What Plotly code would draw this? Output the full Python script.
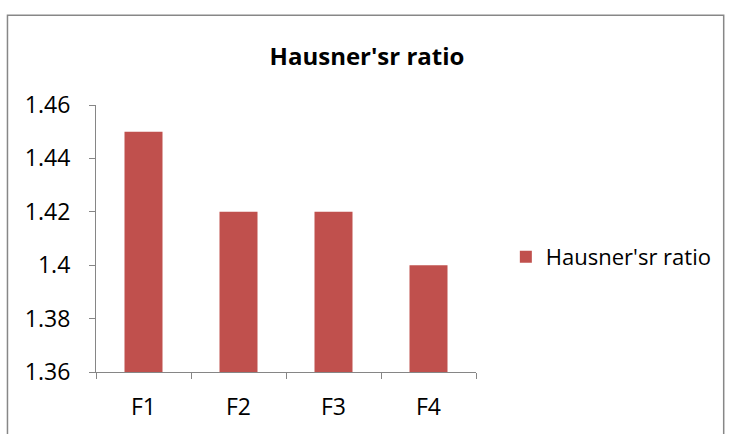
import plotly.graph_objects as go

categories = ["F1", "F2", "F3", "F4"]
values = [1.45, 1.42, 1.42, 1.40]
series_name = "Hausner'sr ratio"
title_text = "Hausner'sr ratio"
y_ticks = [1.36, 1.38, 1.40, 1.42, 1.44, 1.46]
y_tick_labels = ["1.36", "1.38", "1.4", "1.42", "1.44", "1.46"]

FONT = "Open Sans"
AXIS = "#868686"

fig = go.Figure()
fig.add_trace(go.Bar(
    x=categories, y=values, name=series_name,
    marker=dict(color="#C0504D", line=dict(width=0)),
    showlegend=True,
))

fig.update_layout(
    width=729, height=434,
    margin=dict(l=96, r=251, t=105, b=55),
    paper_bgcolor="white", plot_bgcolor="white",
    bargap=0.6,
    font=dict(family=FONT, size=23, color="black"),
    title=dict(text="<b>" + title_text + "</b>", x=367 / 729, xanchor="center",
               y=1 - 57 / 434, yanchor="middle",
               font=dict(family=FONT, size=24, color="black")),
    showlegend=True,
    legend=dict(x=(508 - 96) / 382, y=(376 - 258) / 274, xanchor="left", yanchor="middle",
                font=dict(family=FONT, size=22, color="black"),
                bgcolor="rgba(0,0,0,0)", itemwidth=30),
    xaxis=dict(
        showline=True, linecolor=AXIS, linewidth=1.2,
        ticks="outside", ticklen=6, tickcolor=AXIS, tickwidth=1.2,
        tickson="boundaries", showgrid=False, zeroline=False,
        ticklabelstandoff=14,
    ),
    yaxis=dict(
        range=[1.36, 1.46], tickvals=y_ticks, ticktext=y_tick_labels,
        showline=True, linecolor=AXIS, linewidth=1.2,
        ticks="outside", ticklen=6, tickcolor=AXIS, tickwidth=1.2,
        showgrid=False, zeroline=False, ticklabelstandoff=14,
    ),
    shapes=[dict(
        type="rect", xref="paper", yref="paper",
        x0=(7 - 96) / 382, x1=(727 - 96) / 382,
        y0=-0.4, y1=(379 - 13) / 274,
        line=dict(color="#878787", width=1.5), fillcolor="rgba(0,0,0,0)",
        layer="below",
    )],
)

fig.write_html("out.html", config={"displayModeBar": False},
               post_script="document.body.style.margin='0';document.body.style.overflow='hidden';")
